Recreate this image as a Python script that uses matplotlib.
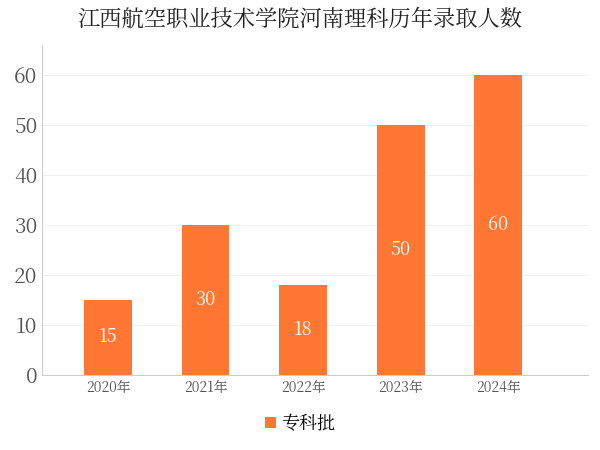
import matplotlib
matplotlib.use("Agg")
import matplotlib.pyplot as plt
from matplotlib import font_manager as fm

cjk = None
for f in fm.fontManager.ttflist:
    if "CJK" in f.name and ("SC" in f.name or cjk is None):
        cjk = f.name
        if "SC" in f.name:
            break
if cjk is None:
    import glob
    for p in glob.glob("/usr/share/fonts/**/*CJK*", recursive=True):
        try:
            fm.fontManager.addfont(p)
        except Exception:
            pass
    for f in fm.fontManager.ttflist:
        if "CJK" in f.name:
            cjk = f.name
            break
plt.rcParams["font.family"] = [cjk or "Noto Sans CJK SC", "DejaVu Sans"]

title = "江西航空职业技术学院河南理科历年录取人数"
years = ["2020年", "2021年", "2022年", "2023年", "2024年"]
values = [15, 30, 18, 50, 60]
series_name = "专科批"
color = "#FF7733"

fig = plt.figure(figsize=(6, 4.5), dpi=100)
ax = fig.add_axes([0.07, 0.167, 0.91, 0.733])
x = range(len(years))
ax.bar(x, values, width=0.49, color=color, label=series_name, zorder=2)
for xi, v in zip(x, values):
    ax.text(xi, v / 2, str(v), ha="center", va="center", color="white", fontsize=13)
ax.set_xticks(list(x))
ax.set_xticklabels(years, fontsize=10, color="#555555")
ax.set_xlim(-0.677, 4.92)
ax.set_ylim(0, 66)
ax.set_yticks(range(0, 61, 10))
ax.tick_params(axis="y", labelsize=15, colors="#555555", length=0)
ax.tick_params(axis="x", length=0)
ax.grid(axis="y", color="#f0f0f0", zorder=0)
for s in ["top", "right"]:
    ax.spines[s].set_visible(False)
ax.spines["left"].set_color("#cccccc")
ax.spines["bottom"].set_color("#cccccc")
fig.suptitle(title, fontsize=16, y=0.985, color="#222222")
fig.legend(loc="lower center", bbox_to_anchor=(0.5, 0.0), frameon=False,
           fontsize=13, handlelength=0.6, handleheight=0.6, handletextpad=0.3)
fig.savefig("out.png")
